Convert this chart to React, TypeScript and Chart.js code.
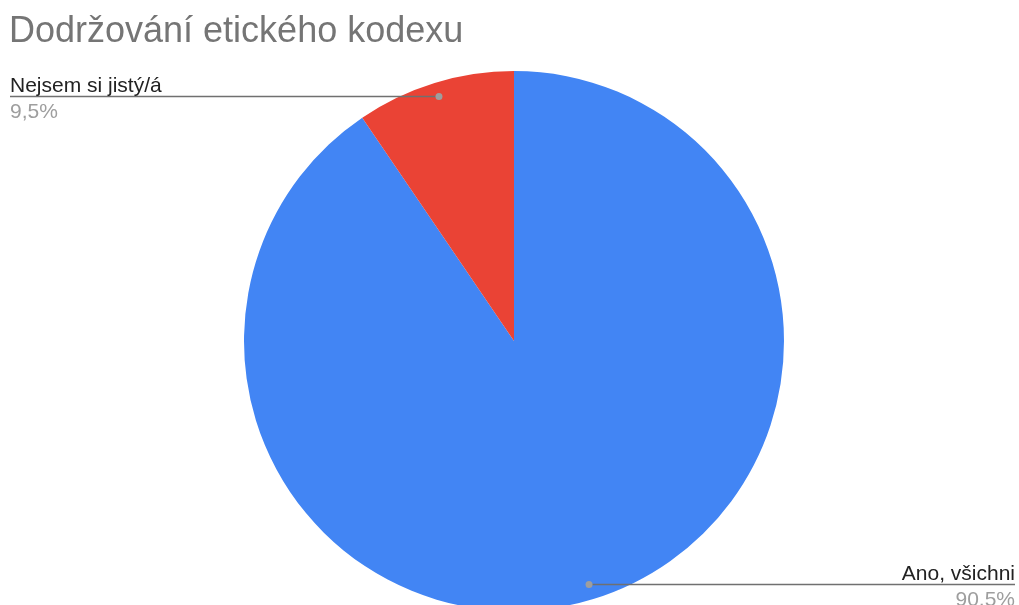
import React, { useEffect, useRef } from "react";
import { Chart, registerables } from "chart.js";

Chart.register(...registerables);

const TITLE = "Dodržování etického kodexu";
const categories = ["Ano, všichni", "Nejsem si jistý/á"];
const values = [90.5, 9.5];
const percentLabels = ["90,5%", "9,5%"];
const colors = ["#4285f4", "#ea4335"];

const W = 1019;
const H = 605;
const CANVAS_H = 620;
const FONT = "'Liberation Sans', Arial, sans-serif";

const leaderPlugin = {
  id: "leaderLabels",
  afterDraw(chart: any) {
    const ctx = chart.ctx as CanvasRenderingContext2D;
    ctx.save();
    // title
    ctx.fillStyle = "#757575";
    ctx.font = `36px ${FONT}`;
    ctx.textBaseline = "alphabetic";
    ctx.textAlign = "left";
    ctx.fillText(TITLE, 9, 42);

    const meta = chart.getDatasetMeta(0);
    meta.data.forEach((arc: any, i: number) => {
      const { x, y, startAngle, endAngle, outerRadius } = arc.getProps(
        ["x", "y", "startAngle", "endAngle", "outerRadius"],
        true
      );
      const mid = (startAngle + endAngle) / 2;
      const r = outerRadius * 0.945;
      const px = x + Math.cos(mid) * r;
      const py = Math.round(y + Math.sin(mid) * r) - 0.5;
      const left = Math.cos(mid) < 0;
      const ex = left ? 10 : 1015;
      ctx.strokeStyle = "#707070";
      ctx.lineWidth = 1.5;
      ctx.beginPath();
      ctx.moveTo(px, py);
      ctx.lineTo(ex, py);
      ctx.stroke();
      ctx.fillStyle = "#9e9e9e";
      ctx.beginPath();
      ctx.arc(px, py, 3.5, 0, Math.PI * 2);
      ctx.fill();
      ctx.textAlign = left ? "left" : "right";
      ctx.font = `21px ${FONT}`;
      ctx.fillStyle = "#222222";
      ctx.textBaseline = "alphabetic";
      ctx.fillText(categories[i], ex, py - 5);
      ctx.fillStyle = "#9e9e9e";
      ctx.fillText(percentLabels[i], ex, py + 21);
    });
    ctx.restore();
  },
};

export default function App() {
  const ref = useRef<HTMLCanvasElement>(null);
  useEffect(() => {
    if (!ref.current) return;
    const chart = new Chart(ref.current, {
      type: "pie",
      data: {
        labels: categories,
        datasets: [
          {
            data: values,
            backgroundColor: colors,
            borderWidth: 0,
          },
        ],
      },
      options: {
        responsive: false,
        animation: false,
        layout: { padding: { left: 244, right: 235, top: 71, bottom: 9 } },
        plugins: {
          legend: { display: false },
          tooltip: { enabled: false },
          title: { display: false },
        },
      },
      plugins: [leaderPlugin],
    });
    return () => chart.destroy();
  }, []);
  return (
    <div
      style={{
        position: "fixed",
        left: 0,
        top: 0,
        width: W,
        height: H,
        overflow: "hidden",
        background: "#ffffff",
      }}
    >
      <canvas ref={ref} width={W} height={CANVAS_H} style={{ display: "block" }} />
    </div>
  );
}
